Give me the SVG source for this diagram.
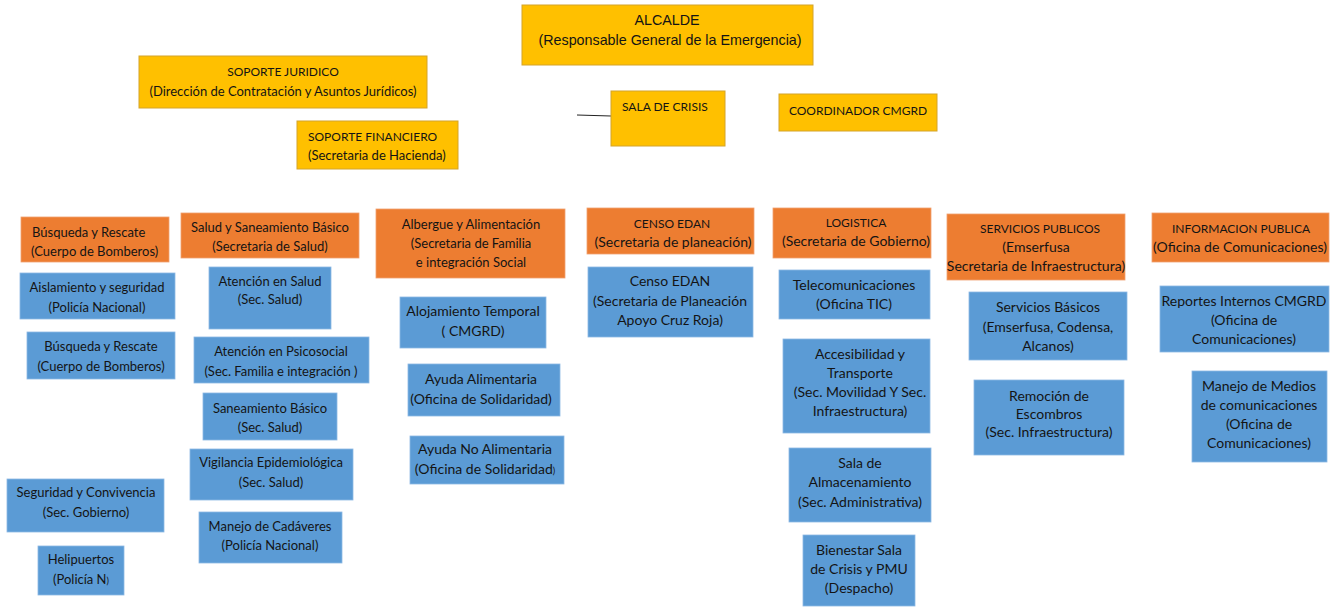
<svg xmlns="http://www.w3.org/2000/svg" width="1330" height="608" viewBox="0 0 1330 608">
<style>
.g{fill:#FFC000;stroke:#D4A42A;stroke-width:1}
.o{fill:#ED7D31;stroke:#F0A070;stroke-width:0.8}
.b{fill:#5B9BD5;stroke:#8DB8E3;stroke-width:0.8}
text{font-family:Lato,"Liberation Sans",sans-serif;font-size:13.5px;fill:#141414;text-anchor:middle}
text.a{font-family:"Liberation Sans",Arial,sans-serif;font-size:14.3px}
text.l{text-anchor:start}
text.u{font-size:12px}
text.s{font-size:13px}
text.m{font-size:14px}
</style>
<rect width="1330" height="608" fill="#fff"/>
<g id="connectors"><line x1="577" y1="115" x2="611" y2="116" stroke="#222" stroke-width="1"/></g>
<g id="alcalde"><rect class="g" x="522" y="5" width="291" height="60"/><text class="a" x="667" y="25">ALCALDE</text><text class="a" x="670" y="45">(Responsable General de la Emergencia)</text></g>
<g id="soporte-juridico"><rect class="g" x="139" y="56" width="288" height="52"/><text class="u" x="283" y="76">SOPORTE JURIDICO</text><text class="s" x="283" y="96">(Dirección de Contratación y Asuntos Jurídicos)</text></g>
<g id="soporte-financiero"><rect class="g" x="297" y="121" width="161" height="48"/><text class="l u" x="308" y="141">SOPORTE FINANCIERO</text><text class="l s" x="308" y="160">(Secretaria de Hacienda)</text></g>
<g id="sala-crisis"><rect class="g" x="611" y="91" width="114" height="55"/><text class="l u" x="622" y="111">SALA DE CRISIS</text></g>
<g id="coordinador"><rect class="g" x="779" y="94" width="158" height="37"/><text class="u" x="858" y="115">COORDINADOR CMGRD</text></g>

<g id="busqueda-o"><rect class="o" x="21" y="217" width="148" height="45"/><text class="l s" x="32" y="237">Búsqueda y Rescate</text><text class="l s" x="31" y="256">(Cuerpo de Bomberos)</text></g>
<g id="salud-o"><rect class="o" x="181" y="213" width="178" height="45"/><text class="s" x="270" y="232">Salud y Saneamiento Básico</text><text class="s" x="270" y="251">(Secretaria de Salud)</text></g>
<g id="albergue-o"><rect class="o" x="376" y="209" width="189" height="69"/><text class="s" x="471" y="229">Albergue y Alimentación</text><text class="s" x="471" y="248">(Secretaria de Familia</text><text class="s" x="471" y="267">e integración Social</text></g>
<g id="censo-o"><rect class="o" x="587" y="208" width="167" height="46"/><text class="u" x="672" y="228">CENSO EDAN</text><text class="m" x="673" y="247">(Secretaria de planeación)</text></g>
<g id="logistica-o"><rect class="o" x="773" y="208" width="158" height="50"/><text class="u" x="856" y="227">LOGISTICA</text><text class="m" x="856" y="246">(Secretaria de Gobierno)</text></g>
<g id="servicios-o"><rect class="o" x="947" y="214" width="178" height="66"/><text class="u" x="1040" y="233">SERVICIOS PUBLICOS</text><text class="m" x="1036" y="252">(Emserfusa</text><text class="m" x="1036" y="271">Secretaria de Infraestructura)</text></g>
<g id="informacion-o"><rect class="o" x="1152" y="213" width="177" height="49"/><text class="u" x="1241" y="233">INFORMACION PUBLICA</text><text class="m" x="1240" y="252">(Oficina de Comunicaciones)</text></g>

<g id="aislamiento"><rect class="b" x="20" y="273" width="155" height="46"/><text class="s" x="97" y="292">Aislamiento y seguridad</text><text class="s" x="97" y="312">(Policía Nacional)</text></g>
<g id="busqueda-b"><rect class="b" x="27" y="332" width="148" height="47"/><text class="s" x="101" y="351">Búsqueda y Rescate</text><text class="s" x="101" y="371">(Cuerpo de Bomberos)</text></g>
<g id="seguridad"><rect class="b" x="7" y="479" width="157" height="53"/><text class="s" x="86" y="497">Seguridad y Convivencia</text><text class="s" x="86" y="517">(Sec. Gobierno)</text></g>
<g id="helipuertos"><rect class="b" x="38" y="546" width="86" height="49"/><text class="s" x="81" y="564">Helipuertos</text><text class="s" x="81" y="584">(Policía N<tspan font-size="9">)</tspan></text></g>

<g id="atencion-salud"><rect class="b" x="209" y="267" width="122" height="62"/><text class="s" x="270" y="286">Atención en Salud</text><text class="s" x="270" y="304">(Sec. Salud)</text></g>
<g id="psicosocial"><rect class="b" x="194" y="337" width="175" height="46"/><text class="s" x="281" y="356">Atención en Psicosocial</text><text class="s" x="281" y="376">(Sec. Familia e integración )</text></g>
<g id="saneamiento"><rect class="b" x="203" y="393" width="134" height="47"/><text class="s" x="270" y="413">Saneamiento Básico</text><text class="s" x="270" y="432">(Sec. Salud)</text></g>
<g id="vigilancia"><rect class="b" x="190" y="449" width="163" height="51"/><text class="s" x="271" y="467">Vigilancia Epidemiológica</text><text class="s" x="271" y="487">(Sec. Salud)</text></g>
<g id="cadaveres"><rect class="b" x="199" y="512" width="143" height="51"/><text class="s" x="270" y="531">Manejo de Cadáveres</text><text class="s" x="270" y="550">(Policía Nacional)</text></g>

<g id="alojamiento"><rect class="b" x="400" y="297" width="146" height="51"/><text class="m" x="473" y="316">Alojamiento Temporal</text><text class="m" x="473" y="336">( CMGRD)</text></g>
<g id="ayuda-alim"><rect class="b" x="408" y="364" width="152" height="52"/><text class="m" x="481" y="384">Ayuda Alimentaria</text><text class="m" x="481" y="404">(Oficina de Solidaridad)</text></g>
<g id="ayuda-no-alim"><rect class="b" x="410" y="436" width="154" height="48"/><text class="m" x="485" y="454">Ayuda No Alimentaria</text><text class="m" x="485" y="474">(Oficina de Solidaridad<tspan font-size="9">)</tspan></text></g>

<g id="censo-b"><rect class="b" x="588" y="267" width="165" height="70"/><text class="m" x="670" y="286">Censo EDAN</text><text class="m" x="670" y="306">(Secretaria de Planeación</text><text class="m" x="670" y="325">Apoyo Cruz Roja)</text></g>

<g id="telecom"><rect class="b" x="779" y="270" width="151" height="49"/><text class="m" x="854" y="290">Telecomunicaciones</text><text class="m" x="854" y="309">(Oficina TIC)</text></g>
<g id="accesibilidad"><rect class="b" x="783" y="339" width="147" height="94"/><text class="m" x="860" y="359">Accesibilidad y</text><text class="m" x="860" y="378">Transporte</text><text class="m" x="860" y="397">(Sec. Movilidad Y Sec.</text><text class="m" x="860" y="416">Infraestructura)</text></g>
<g id="almacenamiento"><rect class="b" x="789" y="448" width="142" height="74"/><text class="m" x="860" y="468">Sala de</text><text class="m" x="860" y="487">Almacenamiento</text><text class="m" x="860" y="507">(Sec. Administrativa)</text></g>
<g id="bienestar"><rect class="b" x="803" y="535" width="112" height="71"/><text class="m" x="859" y="555">Bienestar Sala</text><text class="m" x="859" y="574">de Crisis y PMU</text><text class="m" x="859" y="593">(Despacho)</text></g>

<g id="servicios-basicos"><rect class="b" x="969" y="292" width="158" height="68"/><text class="m" x="1048" y="312">Servicios Básicos</text><text class="m" x="1048" y="332">(Emserfusa, Codensa,</text><text class="m" x="1048" y="351">Alcanos)</text></g>
<g id="remocion"><rect class="b" x="974" y="380" width="150" height="75"/><text class="m" x="1049" y="401">Remoción de</text><text class="m" x="1049" y="419">Escombros</text><text class="m" x="1049" y="437">(Sec. Infraestructura)</text></g>

<g id="reportes"><rect class="b" x="1160" y="286" width="169" height="66"/><text class="m" x="1244" y="306">Reportes Internos CMGRD</text><text class="m" x="1244" y="325">(Oficina de</text><text class="m" x="1244" y="344">Comunicaciones)</text></g>
<g id="medios"><rect class="b" x="1192" y="371" width="135" height="91"/><text class="m" x="1259" y="391">Manejo de Medios</text><text class="m" x="1259" y="410">de comunicaciones</text><text class="m" x="1259" y="429">(Oficina de</text><text class="m" x="1259" y="448">Comunicaciones)</text></g>
</svg>
